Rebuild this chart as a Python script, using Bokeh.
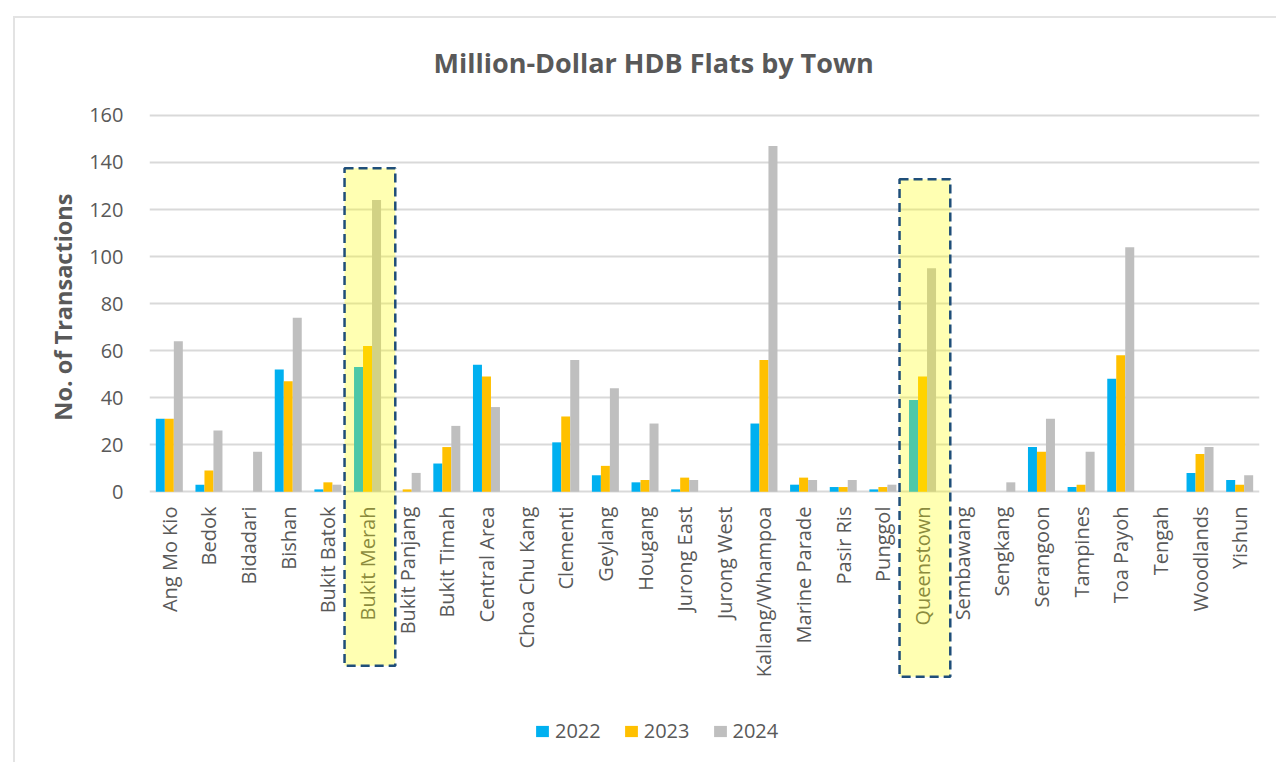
from bokeh.plotting import figure
from bokeh.models import ColumnDataSource, FactorRange, Range1d, FixedTicker, BoxAnnotation, Legend, Title
from bokeh.core.properties import value
from bokeh.transform import dodge
from bokeh.embed import file_html
from bokeh.resources import INLINE
import math

towns = ["Ang Mo Kio", "Bedok", "Bidadari", "Bishan", "Bukit Batok", "Bukit Merah",
         "Bukit Panjang", "Bukit Timah", "Central Area", "Choa Chu Kang", "Clementi",
         "Geylang", "Hougang", "Jurong East", "Jurong West", "Kallang/Whampoa",
         "Marine Parade", "Pasir Ris", "Punggol", "Queenstown", "Sembawang", "Sengkang",
         "Serangoon", "Tampines", "Toa Payoh", "Tengah", "Woodlands", "Yishun"]
y2022 = [31, 3, 0, 52, 1, 53, 0, 12, 54, 0, 21, 7, 4, 1, 0, 29, 3, 2, 1, 39, 0, 0, 19, 2, 48, 0, 8, 5]
y2023 = [31, 9, 0, 47, 4, 62, 1, 19, 49, 0, 32, 11, 5, 6, 0, 56, 6, 2, 2, 49, 0, 0, 17, 3, 58, 0, 16, 3]
y2024 = [64, 26, 17, 74, 3, 124, 8, 28, 36, 0, 56, 44, 29, 5, 0, 147, 5, 5, 3, 95, 0, 4, 31, 17, 104, 0, 19, 7]
years = ["2022", "2023", "2024"]
colors = ["#00b0f0", "#ffc000", "#bfbfbf"]
y_ticks = [0, 20, 40, 60, 80, 100, 120, 140, 160]
highlight_towns = ["Bukit Merah", "Queenstown"]
highlight_tops = [137.6, 132.9]
highlight_bottoms = [-74, -78.7]

TXT = "#595959"

source = ColumnDataSource(dict(town=towns, y2022=y2022, y2023=y2023, y2024=y2024))

p = figure(x_range=FactorRange(*towns, range_padding=0), y_range=Range1d(-115.13, 165.08),
           width=1261, height=744, output_backend="svg", toolbar_location=None,
           min_border_left=134, min_border_top=82, min_border_right=17, min_border_bottom=0)
p.margin = (18, 0, 0, 15)
p.styles = {"outline": "2px solid #e3e3e3"}
p.outline_line_color = None
p.background_fill_color = "white"
p.border_fill_color = "white"

bw = 0.227
renderers = []
for i, (yr, col) in enumerate(zip(years, colors)):
    r = p.vbar(x=dodge("town", (i - 1) * bw, range=p.x_range), top="y" + yr, width=bw,
               source=source, fill_color=col, line_color=None)
    renderers.append((yr, [r]))

# category labels (drawn inside the frame so the highlight boxes can cover them)
p.text(x="town", y=-6.3, text="town", source=source, angle=math.pi / 2,
       text_align="right", text_baseline="middle", text_font=value("Open Sans"),
       text_font_size="20px", text_color=TXT)

title = Title(text="Million-Dollar HDB Flats by Town", text_font="Open Sans",
              text_font_size="27px", text_font_style="bold", text_color=TXT,
              align="left", offset=284, standoff=46)
p.add_layout(title, "above")

p.ygrid.ticker = FixedTicker(ticks=y_ticks)
p.ygrid.grid_line_color = "#d9d9d9"
p.ygrid.grid_line_width = 2
p.xgrid.grid_line_color = None

p.yaxis.ticker = FixedTicker(ticks=y_ticks)
p.yaxis.axis_line_color = None
p.yaxis.major_tick_line_color = None
p.yaxis.minor_tick_line_color = None
p.yaxis.major_label_text_font = "Open Sans"
p.yaxis.major_label_text_font_size = "20px"
p.yaxis.major_label_text_color = TXT
p.yaxis.major_label_standoff = 20
p.xaxis.visible = False

ytitle = Title(text="No. of Transactions", text_font="Open Sans", text_font_size="23.5px",
               text_font_style="bold", text_color=TXT, align="right", offset=90, standoff=16)
p.add_layout(ytitle, "left")

legend = Legend(items=renderers, orientation="horizontal", location=(385, 18),
                label_text_font="Open Sans", label_text_font_size="20px",
                label_text_color=TXT, glyph_width=16, glyph_height=14,
                label_standoff=5, spacing=22, border_line_color=None,
                background_fill_alpha=0, margin=0, padding=0)
p.add_layout(legend)

for t, top, bot in zip(highlight_towns, highlight_tops, highlight_bottoms):
    idx = towns.index(t)
    box = BoxAnnotation(left=idx - 0.08, right=idx + 1.2, top=top, bottom=bot,
                        fill_color="#ffff00", fill_alpha=0.3,
                        line_color="#1f4e79", line_alpha=1.0, line_width=2.5,
                        line_dash="9 5", level="overlay")
    p.add_layout(box)

open("out.html", "w").write(file_html(p, INLINE))
